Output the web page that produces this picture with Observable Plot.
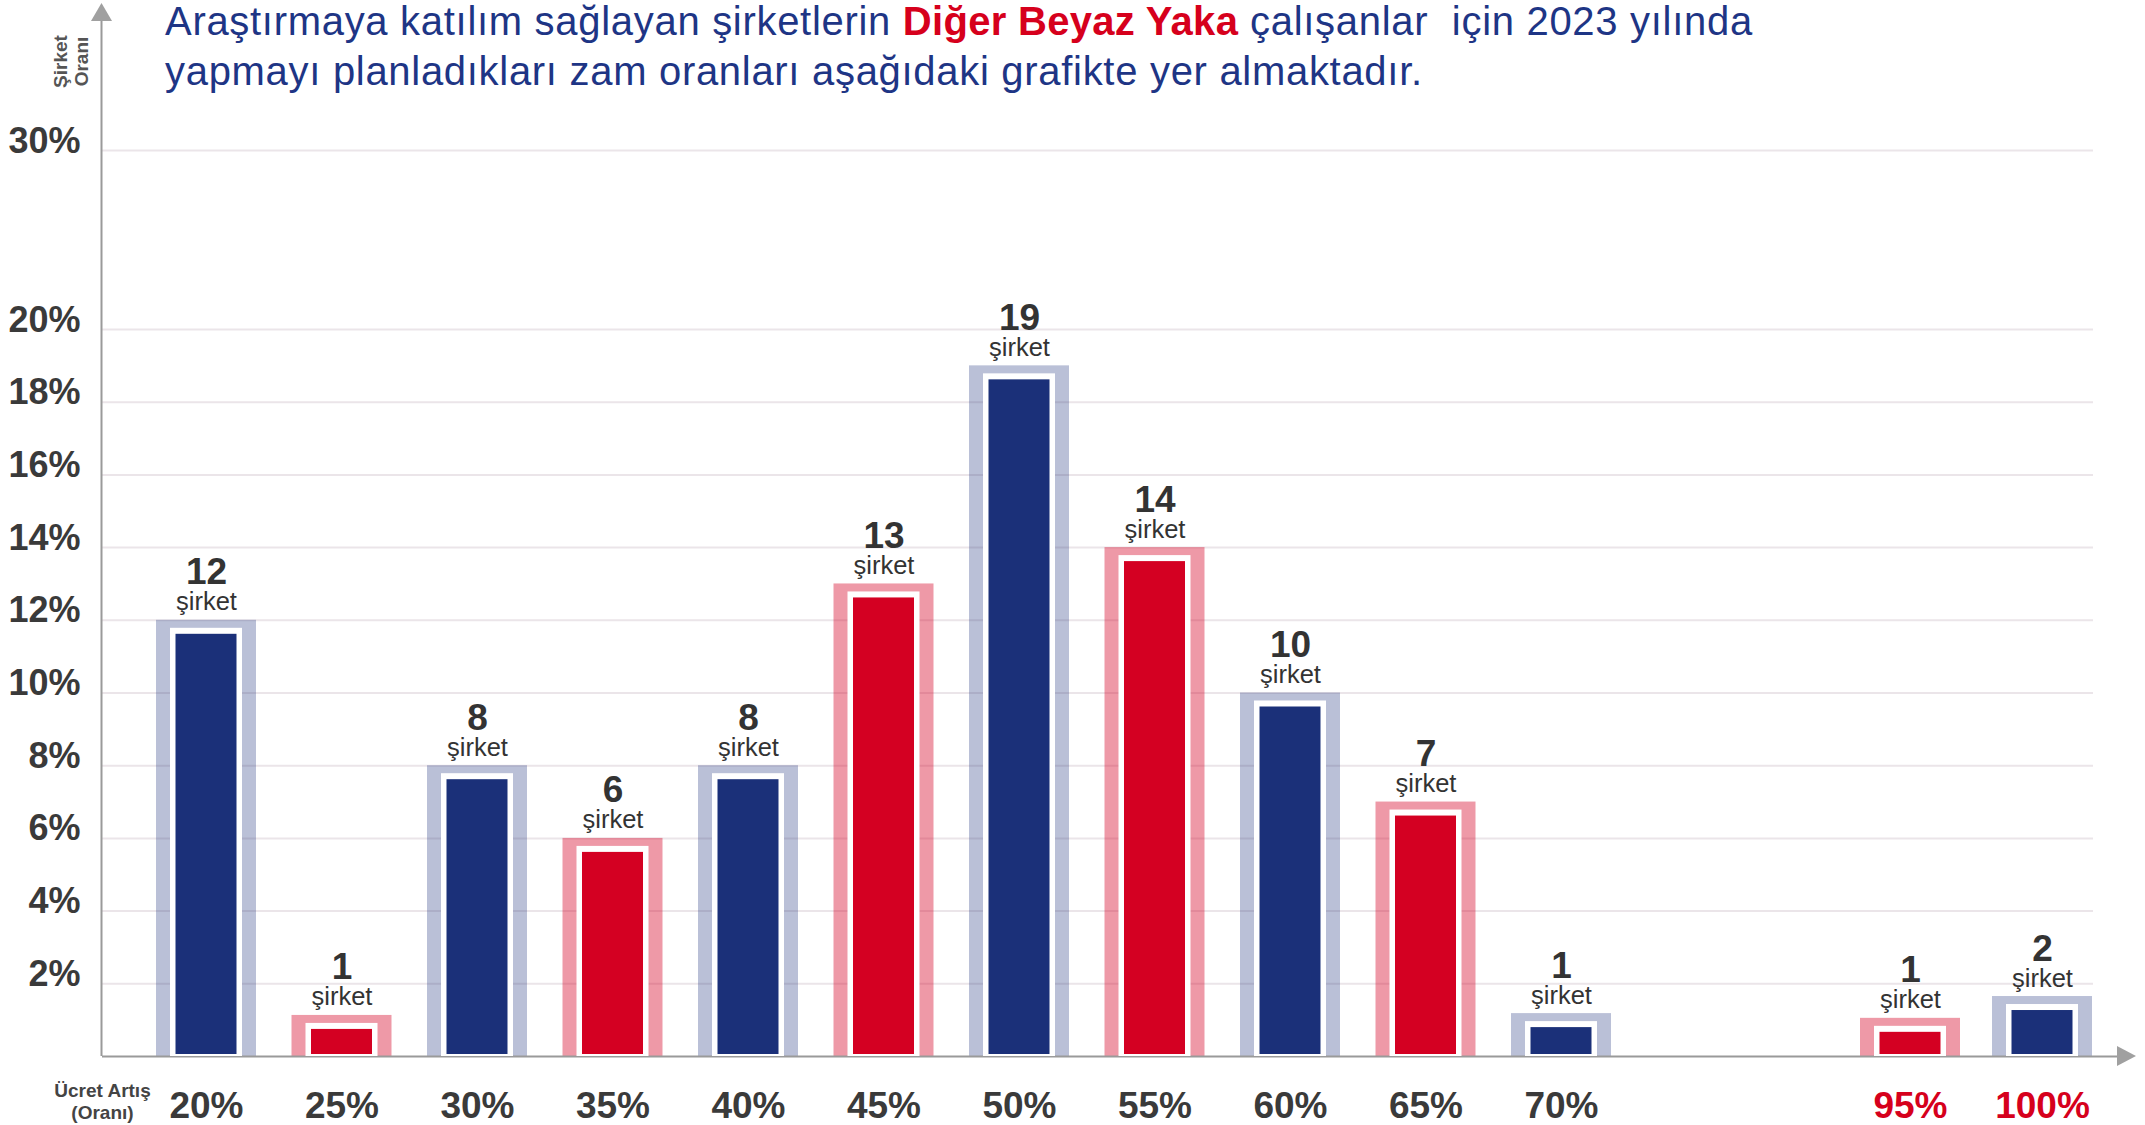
<!DOCTYPE html>
<html>
<head>
<meta charset="utf-8">
<script src="https://cdn.jsdelivr.net/npm/d3@7"></script>
<script src="https://cdn.jsdelivr.net/npm/@observablehq/plot@0.6"></script>
<style>
  html, body { margin: 0; padding: 0; background: #fff; }
  #wrap { position: relative; width: 2145px; height: 1125px; overflow: hidden; }
  #title { position: absolute; left: 165px; top: -4px; font-family: "Liberation Sans", Arial, sans-serif; font-size: 40px; letter-spacing: 0.7px; line-height: 50px; color: #1e3585; white-space: pre; z-index: 2; }
  #title .hl { color: #d6001c; font-weight: bold; letter-spacing: 0.3px; }
  #chart { position: absolute; left: 0; top: 0; }
</style>
</head>
<body>
<div id="wrap">
  <div id="title"><div><span>Araştırmaya katılım sağlayan şirketlerin </span><span class="hl">Diğer Beyaz Yaka</span><span> çalışanlar  için 2023 yılında</span></div><div><span>yapmayı planladıkları zam oranları aşağıdaki grafikte yer almaktadır.</span></div></div>
  <div id="chart"></div>
</div>
<script>
// ---- data ----
const raiseLabels   = ["20%","25%","30%","35%","40%","45%","50%","55%","60%","65%","70%","95%","100%"];
const raiseValues   = [20, 25, 30, 35, 40, 45, 50, 55, 60, 65, 70, 95, 100];
const companyCounts = [12, 1, 8, 6, 8, 13, 19, 14, 10, 7, 1, 1, 2];
const sharePercent  = [12, 1.13, 8, 6, 8, 13, 19, 14, 10, 7, 1.18, 1.05, 1.65];
const barGroup      = ["navy","red","navy","red","navy","red","navy","red","navy","red","navy","red","navy"];
const labelHighlight= [false,false,false,false,false,false,false,false,false,false,false,true,true];
const yTicks        = [2, 4, 6, 8, 10, 12, 14, 16, 18, 20, 30];

const rows = raiseLabels.map((label, i) => ({
  label, pct: raiseValues[i], count: companyCounts[i], share: sharePercent[i],
  group: barGroup[i], highlight: labelHighlight[i]
}));

const FONT = "'Liberation Sans', Arial, sans-serif";
const colors = {
  navy: {dark: "#1b3079", light: "#1b3079", lightOpacity: 0.3},
  red:  {dark: "#d40022", light: "#d40022", lightOpacity: 0.4}
};

function barMarks(layer) {
  return Object.keys(colors).map(g => {
    const sub = rows.filter(d => d.group === g);
    const c = colors[g];
    if (layer === "light") {
      return Plot.rect(sub, {x1: "pct", x2: "pct", y1: 0, y2: "share",
        insetLeft: -50, insetRight: -50, fill: c.light, fillOpacity: c.lightOpacity});
    } else if (layer === "white") {
      return Plot.rect(sub, {x1: "pct", x2: "pct", y1: 0, y2: "share",
        insetLeft: -36, insetRight: -36, insetTop: 8, fill: "#ffffff"});
    } else {
      return Plot.rect(sub, {x1: "pct", x2: "pct", y1: 0, y2: "share",
        insetLeft: -30.5, insetRight: -30.5, insetTop: 14, insetBottom: 2, fill: c.dark});
    }
  });
}

const chart = Plot.plot({
  width: 2145,
  height: 1125,
  marginLeft: 102,
  marginRight: 28,
  marginTop: 0,
  marginBottom: 69,
  style: {fontFamily: FONT, background: "transparent", overflow: "visible"},
  x: {type: "linear", domain: [20, 70, 95, 100], range: [206, 1561, 1910, 2042], axis: null},
  y: {type: "linear", domain: [0, 20, 30], range: [1056, 329, 150], axis: null},
  marks: [
    Plot.ruleY(yTicks, {y: d => d, stroke: "#ebe5e9", strokeWidth: 2, insetRight: 24}),
    ...barMarks("light"),
    Plot.ruleY([0], {stroke: "#9a9a9a", strokeWidth: 2}),
    ...barMarks("white"),
    ...barMarks("dark"),
    // y tick labels
    Plot.text(yTicks, {y: d => d, text: d => d + "%", frameAnchor: "left", textAnchor: "end",
      lineAnchor: "bottom", dx: -22, dy: 2, fontSize: 36, fontWeight: "bold", fill: "#3a3a3a"}),
    // value labels
    Plot.text(rows, {x: "pct", y: "share", text: d => String(d.count), lineAnchor: "bottom",
      dy: -36, fontSize: 37, fontWeight: "bold", fill: "#333333"}),
    Plot.text(rows, {x: "pct", y: "share", text: () => "şirket", lineAnchor: "bottom",
      dy: -10, fontSize: 25.5, fill: "#333333"}),
    // x category labels
    Plot.text(rows, {x: "pct", frameAnchor: "bottom", text: "label", lineAnchor: "bottom",
      dy: 61, fontSize: 37, fontWeight: "bold", fill: d => d.highlight ? "#d6001c" : "#3a3a3a"}),
    // axis titles
    Plot.text(["Ücret Artış\n(Oranı)"], {frameAnchor: "bottom-left", text: d => d, textAnchor: "middle",
      lineAnchor: "bottom", lineHeight: 1.12, dy: 62, fontSize: 19, fontWeight: "bold", fill: "#444444",
      letterSpacing: 0.6}),
    Plot.text(["Şirket\nOranı"], {frameAnchor: "top-left", text: d => d, textAnchor: "middle",
      lineAnchor: "middle", lineHeight: 1.15, rotate: -90, dx: -32, dy: 61, fontSize: 19,
      fontWeight: "bold", fill: "#555555"})
  ]
});

// axis lines and arrowheads (decoration)
const svg = d3.select(chart.tagName.toLowerCase() === "svg" ? chart : chart.querySelector("svg"));
const y0 = chart.scale("y").apply(0);
const axX = 102 - 0.5;
svg.append("line").attr("x1", axX).attr("x2", axX).attr("y1", 20).attr("y2", y0)
  .attr("stroke", "#9a9a9a").attr("stroke-width", 2);
svg.append("path").attr("d", `M${axX},3L${axX - 10.5},21L${axX + 10.5},21Z`).attr("fill", "#a0a0a0");
svg.append("path").attr("d", `M2136,${y0}L2117,${y0 - 10}L2117,${y0 + 10}Z`).attr("fill", "#a0a0a0");

document.getElementById("chart").appendChild(chart);
</script>
</body>
</html>
